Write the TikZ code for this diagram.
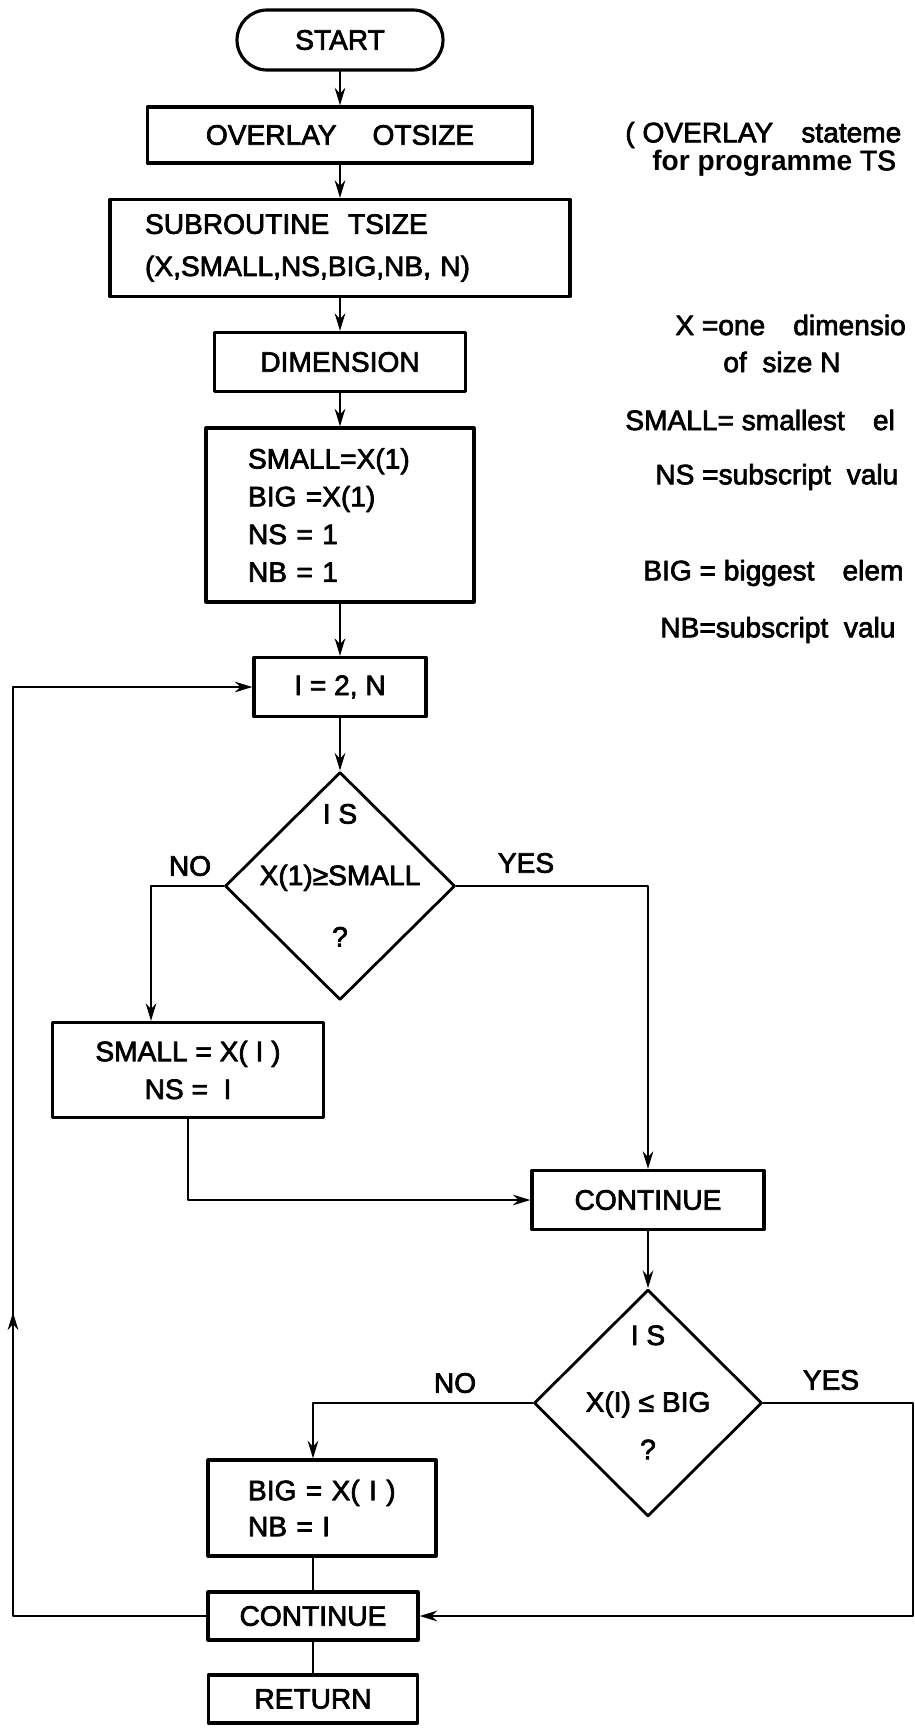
\documentclass[tikz,border=0pt]{standalone}
\usepackage{fontspec}
\setmainfont{Liberation Sans}[UprightFeatures={FakeBold=2.5}]
\usetikzlibrary{shapes.geometric,arrows.meta,decorations.markings}
\begin{document}
\begin{tikzpicture}[x=0.02cm, y=-0.02cm, >={Stealth[length=10pt,width=6pt]},
	font=\fontsize{16}{19}\selectfont, line join=round, line cap=round,
	box/.style={draw, line width=1.8pt, inner sep=0pt},
	term/.style={box, rounded corners=0.6cm},
	decision/.style={draw, shape=diamond, line width=1.6pt, inner sep=0pt},
	arr/.style={->, line width=1.5pt},
	conn/.style={line width=1.5pt},
	lbl/.style={inner sep=0pt},
	note/.style={anchor=west, inner sep=0pt}]
	\useasboundingbox (0,0) rectangle (915,1731);
	% main column
	\node[term, minimum width=4.12cm, minimum height=1.2cm] (start) at (340,40) {START};
	\node[box, minimum width=7.7cm, minimum height=1.12cm] (overlay) at (340,135) {OVERLAY\quad\ OTSIZE};
	\node[box, inner xsep=0.7cm, text width=7.8cm, minimum height=1.94cm, align=left] (subr) at (340,248) {SUBROUTINE\ \ TSIZE\\[5pt](X,SMALL,NS,BIG,NB, N)};
	\node[box, minimum width=5.02cm, minimum height=1.18cm] (dim) at (340,362) {DIMENSION};
	\node[box, inner xsep=0.84cm, text width=3.68cm, minimum height=3.48cm, align=left] (init) at (340,515) {SMALL=X(1)\\[2.5pt]BIG =X(1)\\[2.5pt]NS = 1\\[2.5pt]NB = 1};
	\node[box, minimum width=3.44cm, minimum height=1.18cm] (loop) at (340,687) {I = 2, N};
	\node[decision, minimum width=4.6cm, minimum height=4.56cm] (test1) at (340,886) {\smash{\makebox[0pt]{\begin{tabular}{@{}c@{}}I S\\[16pt]X(1)≥SMALL\\[16pt]?\end{tabular}}}};
	\node[box, minimum width=5.42cm, minimum height=1.9cm, align=center] (setsmall) at (188,1070) {SMALL = X( I )\\[2.5pt]NS = \ I};
	\node[box, minimum width=4.64cm, minimum height=1.18cm] (cont1) at (648,1200) {CONTINUE};
	\node[decision, minimum width=4.56cm, minimum height=4.54cm] (test2) at (648,1403) {\smash{\makebox[0pt]{\begin{tabular}{@{}c@{}}I S\\[19pt]X(I) ≤ BIG\\[8pt]?\end{tabular}}}};
	\node[box, inner xsep=0.8cm, text width=2.96cm, minimum height=1.92cm, align=left] (setbig) at (322,1508) {BIG = X( I )\\[1.5pt]NB = I};
	\node[box, minimum width=4.2cm, minimum height=0.96cm] (cont2) at (313,1616) {CONTINUE};
	\node[box, minimum width=4.18cm, minimum height=0.96cm] (ret) at (313,1699) {RETURN};
	% branch labels
	\node[lbl] (no1) at (190,866) {NO};
	\node[lbl] (yes1) at (526,863) {YES};
	\node[lbl] (no2) at (455,1383) {NO};
	\node[lbl] (yes2) at (831,1380) {YES};
	% connectors
	\draw[arr] (start) -- (overlay);
	\draw[arr] (overlay) -- (subr);
	\draw[arr] (subr) -- (dim);
	\draw[arr] (dim) -- (init);
	\draw[arr] (init) -- (loop);
	\draw[arr] (loop) -- (test1);
	\draw[arr] (test1.west) -| ([xshift=-0.74cm]setsmall.north);
	\draw[arr] (test1.east) -| (cont1.north);
	\draw[arr] (setsmall.south) |- (cont1.west);
	\draw[arr] (cont1) -- (test2);
	\draw[arr] (test2.west) -| (setbig.north -| cont2.north);
	\draw[conn] (setbig.south -| cont2.north) -- (cont2.north);
	\coordinate (rgt) at (913,1403);
	\draw[arr] (test2.east) -- (rgt) |- (cont2.east);
	\coordinate (lft) at (13,1616);
	\draw[arr, postaction={decorate}, decoration={markings, mark=at position 0.365 with {\arrow{>}}}] (cont2.west) -- (lft) |- (loop.west);
	\draw[conn] (cont2) -- (ret);
	% notes on the right
	\node[note] (n1) at (625,135) {( OVERLAY\quad stateme};
	\node[note] (n2) at (652,163) {\textbf{for programme} TS};
	\node[note] (n3) at (675,325) {X\ =one\quad dimensio};
	\node[note] (n4) at (723,362) {of\ \ size\ N};
	\node[note] (n5) at (625,420) {SMALL= smallest\quad el};
	\node[note] (n6) at (655,477) {NS =subscript\ \ valu};
	\node[note] (n7) at (643,573) {BIG = biggest\quad elem};
	\node[note] (n8) at (660,630) {NB=subscript\ \ valu};
\end{tikzpicture}
\end{document}
